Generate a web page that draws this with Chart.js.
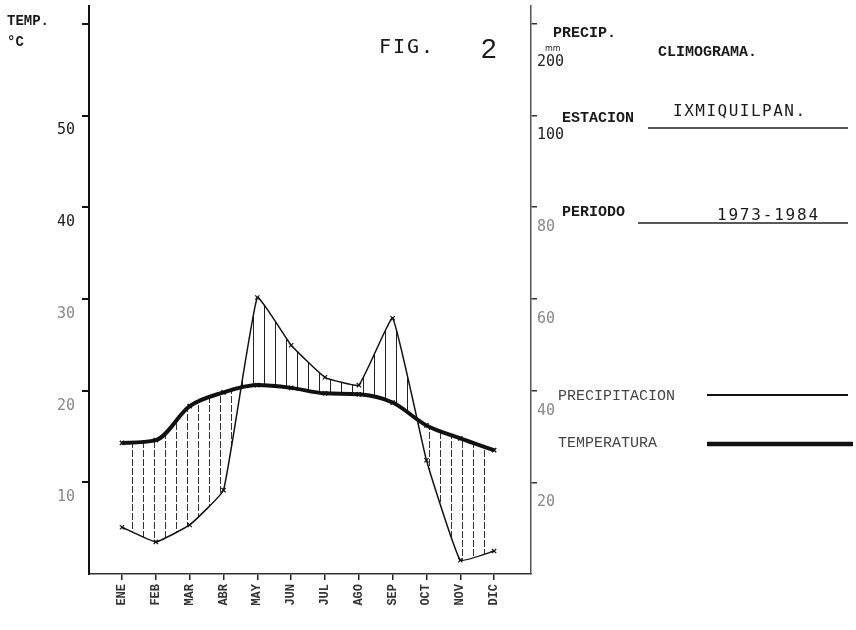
<!DOCTYPE html>
<html>
<head>
<meta charset="utf-8">
<title>Climograma Ixmiquilpan</title>
<script src="https://cdn.jsdelivr.net/npm/chart.js@4.4.1/dist/chart.umd.min.js"></script>
<style>
  html, body { margin: 0; padding: 0; background: #fff; }
  canvas { display: block; }
</style>
</head>
<body>
<canvas id="myChart" width="856" height="630"></canvas>
<script>
var months = ["ENE", "FEB", "MAR", "ABR", "MAY", "JUN", "JUL", "AGO", "SEP", "OCT", "NOV", "DIC"];
var temperature = [14.3, 14.6, 18.3, 19.8, 20.6, 20.3, 19.7, 19.6, 18.7, 16.2, 14.8, 13.5];
var precipitation = [10.2, 7.0, 10.7, 18.3, 60.3, 49.9, 42.9, 41.2, 55.8, 24.8, 3.0, 5.0];

var tempTicks = [10, 20, 30, 40, 50, 60];
var tempTickLabels = ["10", "20", "30", "40", "50", ""];
// above 100 mm the scale is compressed, so the top tick reads 200
var precipTicks = [20, 40, 60, 80, 100, 120];
var precipTickLabels = ["20", "40", "60", "80", "100", "200"];

var stationName = "IXMIQUILPAN.";
var period = "1973-1984";

function hatch(dashed) {
  var c = document.createElement("canvas");
  c.width = 11;
  c.height = dashed ? 9 : 1;
  var g = c.getContext("2d");
  g.fillStyle = dashed ? "#333" : "#222";
  g.fillRect(0, 0, 1, dashed ? 7 : 1);
  return g.createPattern(c, "repeat");
}

function noPad(s) {
  s.paddingTop = 0;
  s.paddingBottom = 0;
  s.paddingLeft = 0;
  s.paddingRight = 0;
}

var textPlugin = {
  id: "texts",
  afterDraw: (chart) => {
    var c = chart.ctx;
    c.save();
    c.fillStyle = "#1a1a1a";
    c.textBaseline = "middle";
    c.textAlign = "left";

    c.font = 'bold 14px "Liberation Mono"';
    c.fillText("TEMP.", 7, 21);
    c.fillText("°C", 7, 42);

    c.font = '20px "DejaVu Sans Mono"';
    c.letterSpacing = "2px";
    c.fillText("FIG.", 379, 48);
    c.letterSpacing = "0px";
    c.font = '28px "Liberation Sans"';
    c.fillText("2", 481, 50);

    c.font = 'bold 15px "Liberation Mono"';
    c.fillText("PRECIP.", 553, 33);
    c.fillText("CLIMOGRAMA.", 658, 52);
    c.fillText("ESTACION", 562, 118);
    c.fillText("PERIODO", 562, 212);
    c.font = '8px "DejaVu Sans"';
    c.fillText("mm", 545, 49);

    c.font = '16px "DejaVu Sans Mono"';
    c.letterSpacing = "1.5px";
    c.fillText(stationName, 673, 112);
    c.letterSpacing = "1.8px";
    c.fillText(period, 717, 216);
    c.letterSpacing = "0px";

    c.strokeStyle = "#222";
    c.lineWidth = 1.5;
    c.beginPath();
    c.moveTo(648, 128);
    c.lineTo(848, 128);
    c.moveTo(638, 223);
    c.lineTo(848, 223);
    c.stroke();

    // leyenda
    var ds = chart.data.datasets;
    c.font = '15px "Liberation Mono"';
    c.fillStyle = "#444";
    c.fillText(ds[1].label, 558, 396);
    c.fillText(ds[0].label, 558, 443);
    c.strokeStyle = "#111";
    c.lineWidth = ds[1].borderWidth + 0.5;
    c.beginPath();
    c.moveTo(707, 395);
    c.lineTo(848, 395);
    c.stroke();
    c.lineWidth = ds[0].borderWidth + 0.5;
    c.beginPath();
    c.moveTo(707, 444);
    c.lineTo(853, 444);
    c.stroke();
    c.restore();
  },
};

var ctx = document.getElementById("myChart").getContext("2d");
var myChart = new Chart(ctx, {
  type: "line",
  data: {
    datasets: [
      {
        label: "TEMPERATURA",
        data: temperature.map((v, i) => ({ x: i, y: v })),
        yAxisID: "y",
        borderColor: "#111",
        borderWidth: 4,
        cubicInterpolationMode: "monotone",
        pointStyle: "crossRot",
        pointRadius: 3,
        pointBorderWidth: 1.5,
        pointBorderColor: "#111",
        fill: false,
      },
      {
        label: "PRECIPITACION",
        data: precipitation.map((v, i) => ({ x: i, y: v })),
        yAxisID: "yP",
        borderColor: "#111",
        borderWidth: 1.5,
        tension: 0.1,
        pointStyle: "crossRot",
        pointRadius: 3,
        pointBorderWidth: 1.2,
        pointBorderColor: "#111",
        fill: { target: 0, above: hatch(false), below: hatch(true) },
      },
    ],
  },
  options: {
    responsive: false,
    animation: false,
    layout: { padding: { top: 5, left: 0, right: 0, bottom: 0 } },
    plugins: {
      legend: { display: false },
      tooltip: { enabled: false },
    },
    scales: {
      x: {
        type: "linear",
        min: -0.976,
        max: 12.09,
        afterBuildTicks: (s) => {
          s.ticks = months.map((m, i) => ({ value: i }));
        },
        afterFit: (s) => {
          s.height = 56;
          noPad(s);
        },
        grid: { drawOnChartArea: false, tickLength: 6, color: "#222", lineWidth: 1.5 },
        border: { color: "#333", width: 1.5 },
        ticks: {
          autoSkip: false,
          minRotation: 90,
          maxRotation: 90,
          padding: 4,
          color: "#333",
          font: { family: "Liberation Mono", size: 12, weight: "bold" },
          callback: (v) => months[v],
        },
      },
      y: {
        position: "left",
        min: 0,
        max: 62,
        afterBuildTicks: (s) => {
          s.ticks = tempTicks.map((v) => ({ value: v }));
        },
        afterFit: (s) => {
          s.width = 89;
          noPad(s);
        },
        grid: { drawOnChartArea: false, tickLength: 7, color: "#111", lineWidth: 2 },
        border: { color: "#111", width: 2 },
        ticks: {
          labelOffset: 15,
          padding: 7,
          color: (c) => (c.tick && c.tick.value >= 40 ? "#222" : "#888"),
          font: { family: "DejaVu Sans Mono", size: 15 },
          callback: (v, i) => tempTickLabels[i],
        },
      },
      yP: {
        position: "right",
        min: 0,
        max: 124,
        afterBuildTicks: (s) => {
          s.ticks = precipTicks.map((v) => ({ value: v }));
        },
        afterFit: (s) => {
          s.width = 325;
          noPad(s);
        },
        grid: { drawOnChartArea: false, tickLength: 6, color: "#333", lineWidth: 1.5 },
        border: { color: "#555", width: 1.5, dash: [7, 3] },
        ticks: {
          labelOffset: 20,
          padding: 0,
          color: (c) => (c.tick && c.tick.value >= 100 ? "#222" : "#888"),
          font: { family: "DejaVu Sans Mono", size: 15 },
          callback: (v, i) => (i === precipTicks.length - 1 ? ["", "", precipTickLabels[i]] : precipTickLabels[i]),
        },
      },
    },
  },
  plugins: [textPlugin],
});
</script>
</body>
</html>
